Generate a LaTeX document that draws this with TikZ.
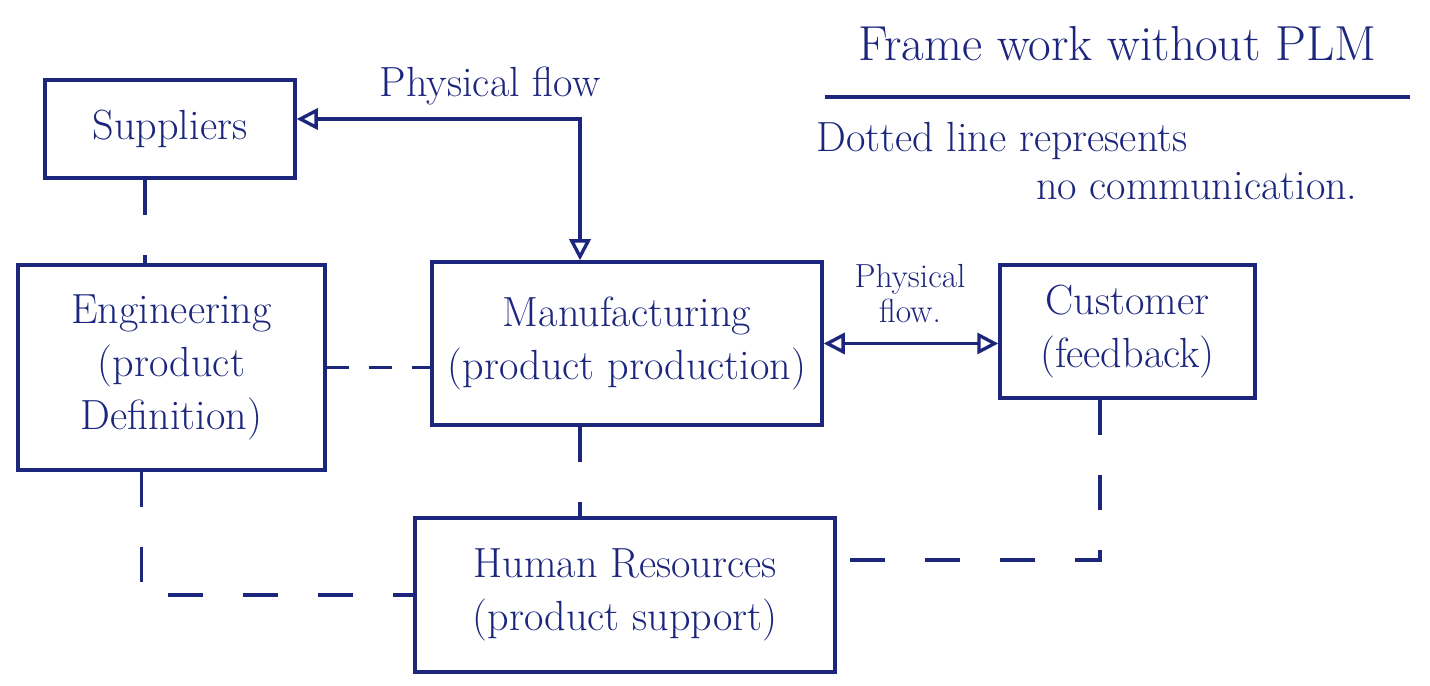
\documentclass[tikz,border=0pt]{standalone}
\usetikzlibrary{arrows.meta}
\definecolor{ink}{RGB}{28,38,125}
\tikzset{
    unit/.style={draw,line width=1.9pt,align=center,font=\fontsize{24}{30}\selectfont},
    flow/.style={line width=1.9pt,{Triangle[open,length=12pt,width=12pt]}-{Triangle[open,length=12pt,width=12pt]}},
    nocomm/.style={line width=1.9pt,dash pattern=on 0.7cm off 0.8cm}
}
\begin{document}
\begin{tikzpicture}[color=ink]
    \useasboundingbox (0,0) rectangle (28.6,13.72);

        \node[unit,minimum width=5cm,minimum height=1.96cm] (sup) at (3.4,11.14) {Suppliers};
        \node[unit,minimum width=6.14cm,minimum height=4.1cm] (eng) at (3.43,6.37) {Engineering\\(product\\Definition)};
        \node[unit,minimum width=7.8cm,minimum height=3.26cm] (man) at (12.54,6.85) {Manufacturing\\(product production)};
        \node[unit,minimum width=5.1cm,minimum height=2.66cm] (cus) at (22.55,7.09) {Customer\\(feedback)};
        \node[unit,minimum width=8.4cm,minimum height=3.08cm] (hr) at (12.5,1.82) {Human Resources\\(product support)};
        \coordinate (flowx) at (11.6,0);

        % physical flow
        \draw[flow] ([yshift=0.2cm]sup.east) -| (man.north -| flowx);
        \node[font=\fontsize{24}{30}\selectfont] (pf1) at (9.8,12.0) {Physical flow};
        \draw[flow] (man.east) -- (cus.west |- man.east);
        \node[align=center,font=\fontsize{19}{20}\selectfont] (pf2) at (18.2,7.85) {Physical\\flow.};

        % no communication
        \draw[nocomm] ([xshift=-0.5cm]sup.south) -- ([xshift=-0.5cm]sup.south |- eng.north);
        \draw[nocomm,dash pattern=on 0.45cm off 0.4cm] (eng.east) -- (eng.east -| man.west);
        \draw[nocomm] (man.south -| flowx) -- (hr.north -| flowx);
        \draw[nocomm] ([xshift=-0.6cm]eng.south) |- (hr.west);
        \draw[nocomm] ([xshift=-0.55cm]cus.south) |- ([yshift=0.7cm]hr.east);

        \node[font=\fontsize{28}{34}\selectfont,minimum width=11.7cm] (title) at (22.35,12.85) {Frame work without PLM};
        \draw[line width=1.9pt] ([yshift=-0.6cm]title.south west) -- ([yshift=-0.6cm]title.south east);
        \node[anchor=west,font=\fontsize{24}{30}\selectfont] (note1) at (16.2,10.9) {Dotted line represents};
        \node[anchor=west,font=\fontsize{24}{30}\selectfont] (note2) at (20.6,10.0) {no communication.};
    \end{tikzpicture}
\end{document}
